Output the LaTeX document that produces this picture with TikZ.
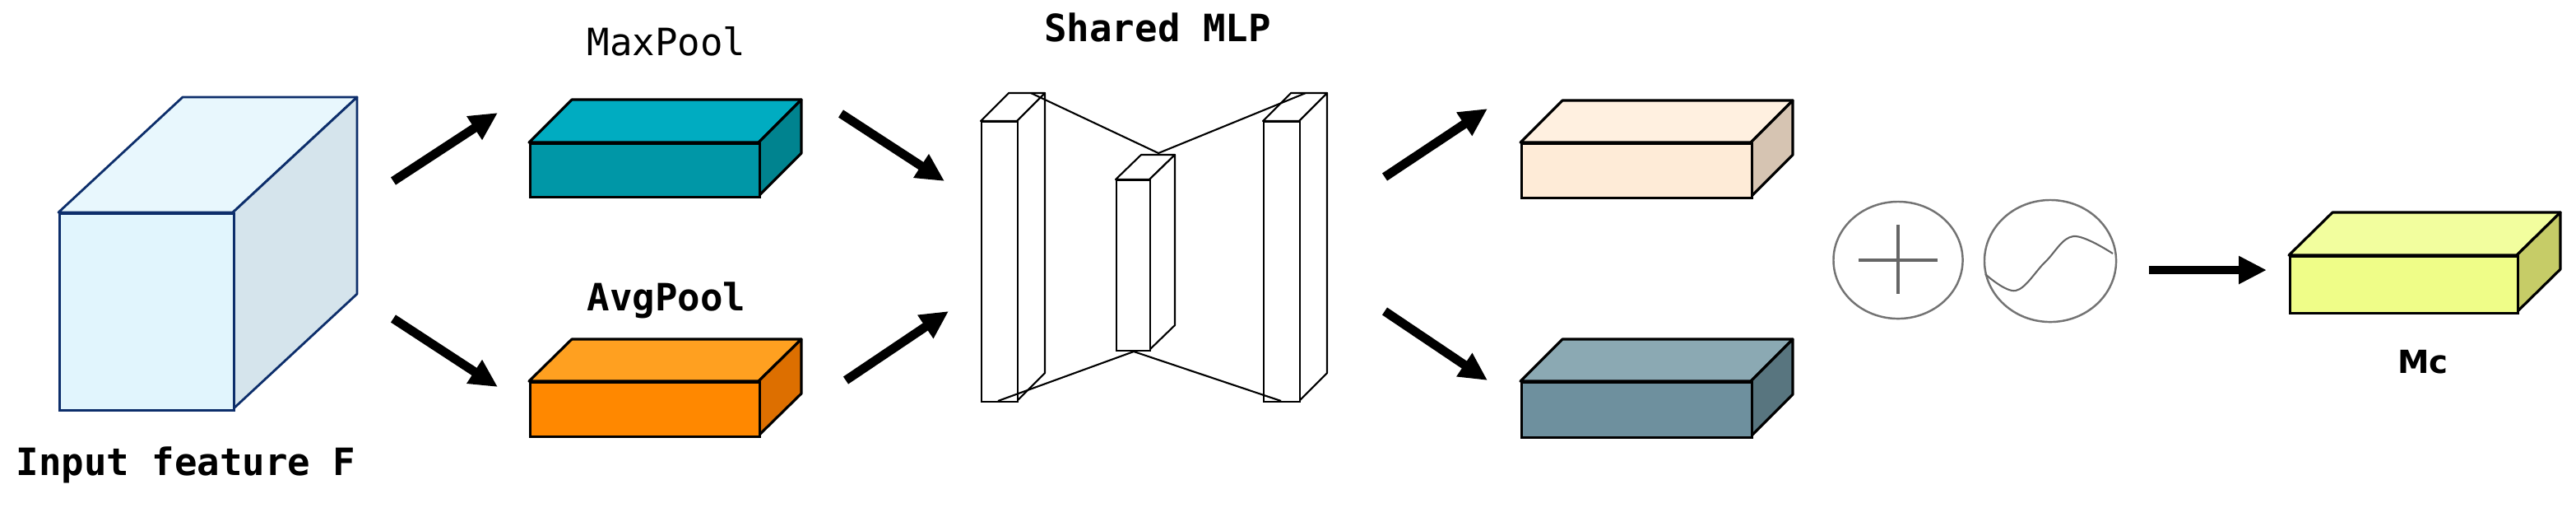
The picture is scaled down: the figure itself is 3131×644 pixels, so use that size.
\documentclass[tikz,border=0pt]{standalone}
\usepackage{fontspec}
\setmonofont{DejaVu Sans Mono}
\setsansfont{DejaVu Sans}
\usepackage{tikz}
\usetikzlibrary{arrows.meta, shapes.geometric}

\definecolor{cubefront}{HTML}{E1F5FD}
\definecolor{cubetop}{HTML}{E8F7FD}
\definecolor{cubeside}{HTML}{D5E4EC}
\definecolor{cubeedge}{HTML}{0D2E6B}
\definecolor{tealfront}{HTML}{0097A7}
\definecolor{tealtop}{HTML}{00ACC1}
\definecolor{tealside}{HTML}{00838F}
\definecolor{orgfront}{HTML}{FF8800}
\definecolor{orgtop}{HTML}{FFA020}
\definecolor{orgside}{HTML}{DD6F00}
\definecolor{beigefront}{HTML}{FEEBD7}
\definecolor{beigetop}{HTML}{FFF0E0}
\definecolor{beigeside}{HTML}{D6C4B2}
\definecolor{slatefront}{HTML}{6E909E}
\definecolor{slatetop}{HTML}{8BA9B3}
\definecolor{slateside}{HTML}{58757F}
\definecolor{yelfront}{HTML}{EFFD88}
\definecolor{yeltop}{HTML}{F2FE9E}
\definecolor{yelside}{HTML}{C6CC67}

\begin{document}
\begin{tikzpicture}[
  x=0.01cm, y=-0.01cm,
  every node/.style={font=\ttfamily\bfseries\fontsize{13}{15}\selectfont},
  label/.style={anchor=base},
  flow/.style={line width=3.1pt, -{Triangle[length=0.34cm, width=0.32cm]}},
  link/.style={line width=0.6pt},
  op/.style={draw=black!55, line width=0.7pt, ellipse, inner sep=0pt},
  glyph/.style={draw=black!60},
  pics/cuboid/.style args={#1/#2/#3/#4/#5/#6/#7}{code={
    % width / height / dx / dy / front / top / side
    \draw[fill=#6, line join=round] (0,0) -- (#3,-#4) -- ++(#1,0) -- (#1,0) -- cycle;
    \draw[fill=#7, line join=round] (#1,0) -- ++(#3,-#4) -- ++(0,#2) -- (#1,#2) -- cycle;
    \node[draw, fill=#5, anchor=north west, inner sep=0pt,
          minimum width=#1*0.01cm, minimum height=#2*0.01cm] (-front) at (0,0) {};
  }}
]
\useasboundingbox (0,0) rectangle (3131,644);

% input feature
\pic[color=cubeedge, line width=0.8pt] (inp) at (71,258) {cuboid=212/239/151/140/cubefront/cubetop/cubeside};
\node[label] (inplab) at (226,577) {Input feature F};

% pooling
\pic[line width=0.9pt] (maxp) at (643,173) {cuboid=279/65/52/52/tealfront/tealtop/tealside};
\pic[line width=0.9pt] (avgp) at (643,463) {cuboid=279/66/52/51/orgfront/orgtop/orgside};
\node[label, font=\ttfamily\fontsize{13}{15}\selectfont] (maxlab) at (810,67) {MaxPool};
\node[label] (avglab) at (810,377) {AvgPool};

% shared MLP
\pic[line width=0.6pt] (ls) at (1192,147) {cuboid=44/340/34/34/white/white/white};
\pic[line width=0.6pt] (ms) at (1356,218) {cuboid=41/207/31/30/white/white/white};
\pic[line width=0.6pt] (rs) at (1535,147) {cuboid=44/340/34/34/white/white/white};
\node[label] (mlplab) at (1407,50) {Shared MLP};

\coordinate (mlpA) at (1253,113);
\coordinate (mlpB) at (1408,186);
\coordinate (mlpC) at (1587,113);
\coordinate (mlpD) at (1213,487);
\coordinate (mlpE) at (1378,427);
\coordinate (mlpF) at (1557,487);
\draw[link] (mlpA) -- (mlpB) -- (mlpC);
\draw[link] (mlpD) -- (mlpE) -- (mlpF);

% MLP outputs
\pic[line width=0.9pt] (outa) at (1848,173) {cuboid=280/66/51/51/beigefront/beigetop/beigeside};
\pic[line width=0.9pt] (outb) at (1848,463) {cuboid=280/67/51/51/slatefront/slatetop/slateside};

% add and sigmoid
\node[op, minimum width=1.57cm, minimum height=1.42cm] (add) at (2307,316) {};
\node[op, minimum width=1.60cm, minimum height=1.48cm] (sig) at (2492,317) {};
\draw[glyph, line width=0.9pt] (add.center) ++(-48,0) -- ++(96,0);
\draw[glyph, line width=0.9pt] (add.center) ++(0,-43) -- ++(0,84);
\draw[glyph, line width=0.6pt] plot[smooth, tension=0.6] coordinates
  {(2413,333) (2450,353) (2486,318) (2520,287) (2568,308)};

% channel attention map
\pic[line width=0.9pt] (mc) at (2782,310) {cuboid=277/69/53/52/yelfront/yeltop/yelside};
\node[label, font=\sffamily\bfseries\fontsize{11}{13}\selectfont] (mclab) at (2945,453) {Mc};

% arrows
\coordinate (a1s) at (478,220);  \coordinate (a1e) at (605,137);
\coordinate (a2s) at (478,387);  \coordinate (a2e) at (605,470);
\coordinate (a3s) at (1022,138); \coordinate (a3e) at (1148,220);
\coordinate (a4s) at (1028,462); \coordinate (a4e) at (1153,378);
\coordinate (a5s) at (1683,215); \coordinate (a5e) at (1808,132);
\coordinate (a6s) at (1683,378); \coordinate (a6e) at (1808,462);
\coordinate (a7s) at (2612,328); \coordinate (a7e) at (2755,328);
\foreach \n in {1,...,7}
  \draw[flow] (a\n s) -- (a\n e);
\end{tikzpicture}
\end{document}
